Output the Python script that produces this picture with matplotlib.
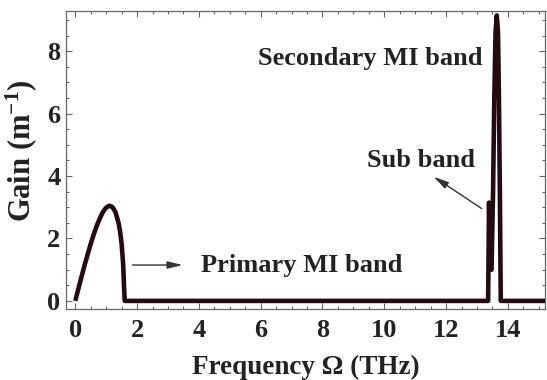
import numpy as np
import matplotlib
matplotlib.use("Agg")
import matplotlib.pyplot as plt
from matplotlib.ticker import MultipleLocator

# Modulation-instability gain spectrum (frequency in THz, gain in 1/m)
primary_freq = [0.0, 0.1, 0.2, 0.3, 0.4, 0.5, 0.6, 0.7, 0.8, 0.9, 1.0, 1.1,
                1.2, 1.3, 1.4, 1.45, 1.5, 1.55, 1.58, 1.60]
primary_gain = [0.0, 0.39, 0.77, 1.14, 1.49, 1.83, 2.14, 2.42, 2.66, 2.86, 2.99,
                3.05, 3.01, 2.85, 2.50, 2.22, 1.82, 1.16, 0.40, 0.0]

secondary_freq = [13.36, 13.39, 13.41, 13.43, 13.47, 13.52, 13.56, 13.60, 13.64,
                  13.68, 13.71, 13.74, 13.76, 13.77]
secondary_gain = [0.0, 3.15, 2.0, 1.0, 1.0, 3.5, 6.5, 8.6, 9.15, 8.6, 6.5, 3.5,
                  1.0, 0.0]

x_end = 15.2

freq = primary_freq + secondary_freq + [x_end]
gain = primary_gain + secondary_gain + [0.0]

x_ticks = [0, 2, 4, 6, 8, 10, 12, 14]
y_ticks = [0, 2, 4, 6, 8]

serif = ["Liberation Serif", "DejaVu Serif"]
plt.rcParams["font.family"] = serif
plt.rcParams["mathtext.fontset"] = "custom"
plt.rcParams["mathtext.rm"] = "Liberation Serif:bold"
plt.rcParams["mathtext.it"] = "Liberation Serif:bold"
plt.rcParams["mathtext.bf"] = "Liberation Serif:bold"

fig = plt.figure(figsize=(5.47, 3.80), dpi=100)
ax = fig.add_axes([0.1207, 0.186, 0.8756, 0.7858])

line_color = "#230b10"
ax.plot(freq, gain, color=line_color, lw=3.3, solid_joinstyle="round",
        solid_capstyle="butt", zorder=3)

ax.set_xlim(-0.3, x_end)
ax.set_ylim(-0.27, 9.3)

ax.set_xticks(x_ticks)
ax.set_yticks(y_ticks)
ax.xaxis.set_minor_locator(MultipleLocator(0.5))
ax.yaxis.set_minor_locator(MultipleLocator(0.5))

frame_color = "#666666"
for s in ax.spines.values():
    s.set_color(frame_color)
    s.set_linewidth(0.9)

ax.tick_params(which="both", direction="in", top=True, right=True,
               color=frame_color, width=0.8)
ax.tick_params(which="major", length=4.5, labelsize=19, labelcolor="#222222")
ax.tick_params(axis="x", which="major", pad=7)
ax.tick_params(axis="y", which="major", pad=4)
ax.tick_params(which="minor", length=2.5)
for lbl in ax.get_xticklabels() + ax.get_yticklabels():
    lbl.set_fontweight("bold")

ax.set_xlabel("Frequency \u03a9 (THz)", fontsize=19.5, fontweight="bold",
              color="#222222", labelpad=9)
ax.set_ylabel("Gain (m$^{-1}$)", fontsize=22, fontweight="bold",
              color="#222222")
ax.yaxis.set_label_coords(-0.056, 0.53)

text_kw = dict(fontsize=19, fontweight="bold", color="#222222")
ax.text(4.07, 1.15, "Primary MI band", ha="left", va="center", **text_kw)
ax.text(5.9, 7.78, "Secondary MI band", ha="left", va="center", **text_kw)
ax.text(9.44, 4.5, "Sub band", ha="left", va="center", **text_kw)

ax.annotate("", xy=(3.47, 1.15), xytext=(1.85, 1.15),
            arrowprops=dict(arrowstyle="-|>,head_length=0.9,head_width=0.22",
                            color="#333333", lw=1.0, shrinkA=0, shrinkB=0))
ax.annotate("", xy=(11.6, 3.98), xytext=(13.15, 2.96),
            arrowprops=dict(arrowstyle="-|>,head_length=0.9,head_width=0.22",
                            color="#333333", lw=1.0, shrinkA=0, shrinkB=0))

fig.savefig("out.png", dpi=100)
